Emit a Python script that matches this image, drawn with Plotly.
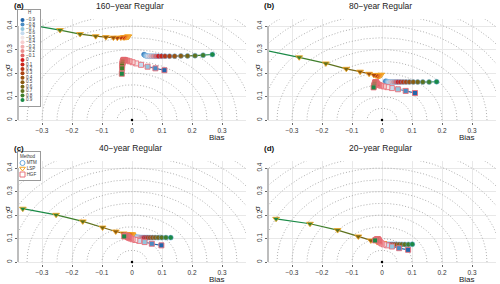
import numpy as np
import plotly.graph_objects as go

# ---------------- data ----------------
H = [-0.9, -0.8, -0.7, -0.6, -0.5, -0.4, -0.3, -0.2, -0.1, 0.0,
     0.1, 0.2, 0.3, 0.4, 0.5, 0.6, 0.7, 0.8, 0.9]
H_COLORS = ['#2166AC', '#4A8CC4', '#92C5DE', '#C6DBEF', '#F2E6E6', '#F7D0D0',
            '#F2AFAF', '#EB8C8C', '#E06666', '#D7191C', '#C9261A', '#BA3516',
            '#AA4413', '#9A5211', '#8A5C12', '#766616', '#5E721E', '#3F7F2C', '#1A8A46']
METHODS = ['MTM', 'LSP', 'HGF']
PANEL_TITLES = ['160\u2212year Regular', '80\u2212year Regular',
                '40\u2212year Regular', '20\u2212year Regular']
PANEL_LABELS = ['(a)', '(b)', '(c)', '(d)']
X_TICKS = [-0.3, -0.2, -0.1, 0.0, 0.1, 0.2, 0.3]
Y_TICKS = [0.0, 0.1, 0.2, 0.3, 0.4]

# panel (a) 160-year
mtm_bias_a = [0.040, 0.043, 0.046, 0.049, 0.053, 0.058, 0.064, 0.071, 0.079, 0.088,
              0.098, 0.110, 0.125, 0.142, 0.163, 0.185, 0.210, 0.237, 0.268]
mtm_sigma_a = [0.279, 0.276, 0.274, 0.273, 0.272, 0.272, 0.272, 0.272, 0.272, 0.272,
               0.272, 0.272, 0.272, 0.272, 0.273, 0.273, 0.274, 0.276, 0.279]
lsp_bias_a = [-0.012, -0.013, -0.014, -0.015, -0.016, -0.017, -0.018, -0.020, -0.022, -0.025,
              -0.029, -0.037, -0.049, -0.062, -0.087, -0.121, -0.173, -0.240, -0.340]
lsp_sigma_a = [0.356, 0.355, 0.354, 0.354, 0.354, 0.354, 0.353, 0.353, 0.353, 0.352,
               0.352, 0.351, 0.350, 0.351, 0.353, 0.357, 0.366, 0.383, 0.405]
hgf_bias_a = [0.108, 0.078, 0.052, 0.030, 0.014, 0.002, -0.008, -0.016, -0.022, -0.026,
              -0.028, -0.029, -0.030, -0.031, -0.031, -0.032, -0.033, -0.033, -0.034]
hgf_sigma_a = [0.212, 0.220, 0.227, 0.235, 0.241, 0.246, 0.250, 0.253, 0.255, 0.256,
               0.256, 0.254, 0.252, 0.249, 0.245, 0.240, 0.232, 0.220, 0.197]

# panel (b) 80-year
mtm_bias_b = [0.012, 0.015, 0.018, 0.021, 0.025, 0.029, 0.034, 0.040, 0.046, 0.053,
              0.061, 0.070, 0.080, 0.091, 0.104, 0.119, 0.136, 0.157, 0.182]
mtm_sigma_b = [0.165, 0.164, 0.163, 0.162, 0.162, 0.162, 0.162, 0.162, 0.162, 0.162,
               0.162, 0.162, 0.162, 0.162, 0.162, 0.162, 0.162, 0.162, 0.163]
lsp_bias_b = [-0.003, -0.004, -0.005, -0.006, -0.007, -0.008, -0.009, -0.010, -0.011, -0.013,
              -0.016, -0.020, -0.027, -0.043, -0.073, -0.119, -0.187, -0.276, -0.400]
lsp_sigma_b = [0.193, 0.192, 0.191, 0.191, 0.190, 0.190, 0.189, 0.189, 0.189, 0.189,
               0.189, 0.190, 0.192, 0.197, 0.206, 0.218, 0.241, 0.267, 0.300]
hgf_bias_b = [0.110, 0.079, 0.053, 0.033, 0.018, 0.006, -0.003, -0.009, -0.014, -0.017,
              -0.019, -0.020, -0.021, -0.022, -0.023, -0.024, -0.025, -0.026, -0.028]
hgf_sigma_b = [0.115, 0.124, 0.131, 0.136, 0.140, 0.143, 0.146, 0.149, 0.152, 0.156,
               0.159, 0.161, 0.162, 0.161, 0.159, 0.155, 0.151, 0.146, 0.139]

# panel (c) 40-year
mtm_bias_c = [0.003, 0.007, 0.011, 0.015, 0.019, 0.023, 0.027, 0.031, 0.036, 0.041,
              0.047, 0.053, 0.060, 0.068, 0.077, 0.087, 0.099, 0.113, 0.129]
mtm_sigma_c = [0.109, 0.108, 0.107, 0.106, 0.105, 0.105, 0.104, 0.104, 0.104, 0.104,
               0.104, 0.104, 0.104, 0.104, 0.104, 0.104, 0.104, 0.104, 0.104]
lsp_bias_c = [0.002, 0.001, 0.000, -0.001, -0.001, -0.002, -0.002, -0.003, -0.004, -0.005,
              -0.007, -0.010, -0.016, -0.028, -0.054, -0.098, -0.164, -0.253, -0.364]
lsp_sigma_c = [0.117, 0.117, 0.117, 0.116, 0.116, 0.116, 0.116, 0.116, 0.116, 0.116,
               0.116, 0.117, 0.119, 0.122, 0.130, 0.147, 0.173, 0.201, 0.227]
hgf_bias_c = [0.098, 0.066, 0.042, 0.024, 0.011, 0.002, -0.004, -0.008, -0.011, -0.013,
              -0.015, -0.016, -0.017, -0.018, -0.019, -0.020, -0.021, -0.023, -0.026]
hgf_sigma_c = [0.071, 0.078, 0.085, 0.090, 0.094, 0.097, 0.100, 0.102, 0.104, 0.106,
               0.108, 0.109, 0.110, 0.111, 0.112, 0.112, 0.112, 0.111, 0.109]

# panel (d) 20-year
mtm_bias_d = [0.002, 0.003, 0.005, 0.007, 0.009, 0.012, 0.015, 0.018, 0.022, 0.026,
              0.031, 0.036, 0.042, 0.049, 0.057, 0.066, 0.076, 0.088, 0.101]
mtm_sigma_d = [0.078, 0.077, 0.076, 0.076, 0.075, 0.075, 0.075, 0.075, 0.075, 0.075,
               0.075, 0.075, 0.075, 0.075, 0.075, 0.075, 0.075, 0.075, 0.076]
lsp_bias_d = [0.004, 0.003, 0.003, 0.002, 0.002, 0.001, 0.001, 0.001, 0.000, 0.000,
              -0.001, -0.003, -0.007, -0.016, -0.037, -0.079, -0.148, -0.240, -0.353]
lsp_sigma_d = [0.081, 0.081, 0.080, 0.080, 0.080, 0.080, 0.079, 0.079, 0.079, 0.079,
               0.079, 0.080, 0.082, 0.085, 0.092, 0.109, 0.136, 0.163, 0.184]
hgf_bias_d = [0.087, 0.057, 0.033, 0.017, 0.006, -0.001, -0.005, -0.008, -0.010, -0.011,
              -0.012, -0.013, -0.014, -0.015, -0.016, -0.017, -0.019, -0.021, -0.023]
hgf_sigma_d = [0.052, 0.059, 0.066, 0.071, 0.075, 0.079, 0.083, 0.087, 0.090, 0.093,
               0.095, 0.096, 0.097, 0.097, 0.097, 0.096, 0.095, 0.094, 0.092]

PANELS = [
    {'MTM': (mtm_bias_a, mtm_sigma_a), 'LSP': (lsp_bias_a, lsp_sigma_a), 'HGF': (hgf_bias_a, hgf_sigma_a)},
    {'MTM': (mtm_bias_b, mtm_sigma_b), 'LSP': (lsp_bias_b, lsp_sigma_b), 'HGF': (hgf_bias_b, hgf_sigma_b)},
    {'MTM': (mtm_bias_c, mtm_sigma_c), 'LSP': (lsp_bias_c, lsp_sigma_c), 'HGF': (hgf_bias_c, hgf_sigma_c)},
    {'MTM': (mtm_bias_d, mtm_sigma_d), 'LSP': (lsp_bias_d, lsp_sigma_d), 'HGF': (hgf_bias_d, hgf_sigma_d)},
]

# ---------------- style ----------------
W, HGT = 500, 284
FONT = 'Liberation Sans, Arial, sans-serif'
METHOD_EDGE = {'MTM': '#6AA8DA', 'LSP': '#F5A623', 'HGF': '#E8707A'}
METHOD_EDGE_W = {'MTM': 0.5, 'LSP': 0.8, 'HGF': 0.9}
METHOD_SYMBOL = {'MTM': 'circle', 'LSP': 'triangle-down', 'HGF': 'square'}
METHOD_SIZE = {'MTM': 5, 'LSP': 6, 'HGF': 5}
XR = [-0.38, 0.38]
YR = [-0.01, 0.43]

# panel pixel boxes: (left, right, top, bottom)
BOXES = [(18, 246, 19, 122.4), (268, 496, 19, 122.4),
         (18, 246, 161, 264.4), (268, 496, 161, 264.4)]


def px2x(p):
    return p / W


def px2y(p):
    return 1 - p / HGT


fig = go.Figure()
layout = dict(width=W, height=HGT, margin=dict(l=0, r=0, t=0, b=0),
              paper_bgcolor='white', plot_bgcolor='white', showlegend=False,
              font=dict(family=FONT, color='#222'))
annotations = []
shapes = []

theta = np.linspace(0, np.pi, 181)
radii = np.arange(0.05, 0.601, 0.05)

for k, (box, data) in enumerate(zip(BOXES, PANELS)):
    sfx = '' if k == 0 else str(k + 1)
    xa, ya = 'x' + sfx, 'y' + sfx
    l, r, t, b = box
    layout['xaxis' + sfx] = dict(domain=[px2x(l), px2x(r)], range=XR, anchor=ya,
                                 tickvals=X_TICKS, ticks='outside', ticklen=2, tickcolor='#666',
                                 tickfont=dict(size=6.5, color='#333'), showgrid=True,
                                 gridcolor='#E8E8E8', gridwidth=0.7, zeroline=False,
                                 showline=False, fixedrange=True)
    layout['yaxis' + sfx] = dict(domain=[px2y(b), px2y(t)], range=YR, anchor=xa,
                                 tickvals=Y_TICKS, ticks='outside', ticklen=2, tickcolor='#666',
                                 tickangle=-90, tickfont=dict(size=6.5, color='#333'),
                                 showgrid=True, gridcolor='#E8E8E8', gridwidth=0.7,
                                 zeroline=False, showline=False, fixedrange=True)
    # dotted arcs
    ax_, ay_ = [], []
    for rr in radii:
        ax_ += list(rr * np.cos(theta)) + [None]
        ay_ += list(rr * np.sin(theta)) + [None]
    fig.add_trace(go.Scatter(x=ax_, y=ay_, mode='lines', xaxis=xa, yaxis=ya,
                             line=dict(color='#9A9A9A', width=0.8, dash='1px,2px'),
                             hoverinfo='skip'))
    # connecting segments coloured by H
    for i in range(len(H) - 1):
        c = H_COLORS[i] if H[i] < 0 else H_COLORS[i + 1]
        sx, sy = [], []
        for m in METHODS:
            bx, sg = data[m]
            sx += [bx[i], bx[i + 1], None]
            sy += [sg[i], sg[i + 1], None]
        fig.add_trace(go.Scatter(x=sx, y=sy, mode='lines', xaxis=xa, yaxis=ya,
                                 line=dict(color=c, width=1.2), hoverinfo='skip'))
    # markers
    for m in METHODS:
        bx, sg = data[m]
        fig.add_trace(go.Scatter(x=bx, y=sg, mode='markers', xaxis=xa, yaxis=ya,
                                 marker=dict(symbol=METHOD_SYMBOL[m], size=METHOD_SIZE[m],
                                             color=H_COLORS,
                                             line=dict(color=METHOD_EDGE[m], width=METHOD_EDGE_W[m]))))
    # origin
    fig.add_trace(go.Scatter(x=[0], y=[0], mode='markers', xaxis=xa, yaxis=ya,
                             marker=dict(color='black', size=2.5)))
    # left gray axis line
    shapes.append(dict(type='line', xref='paper', yref=ya, x0=px2x(l), x1=px2x(l),
                       y0=0, y1=0.4, line=dict(color='#BDBDBD', width=2)))
    cx = (l + r) / 2 - 2
    annotations.append(dict(text=PANEL_TITLES[k], xref='paper', yref='paper',
                            x=px2x(cx), y=px2y(t - 13), showarrow=False,
                            font=dict(size=8.5, color='#222'), xanchor='center', yanchor='middle'))
    annotations.append(dict(text='<b>' + PANEL_LABELS[k] + '</b>', xref='paper', yref='paper',
                            x=px2x(l - 6), y=px2y(t - 13), showarrow=False,
                            font=dict(size=8, color='#111'), xanchor='left', yanchor='middle'))
    annotations.append(dict(text='Bias', xref='paper', yref='paper',
                            x=px2x(r - 29), y=px2y(b + 15), showarrow=False,
                            font=dict(size=8, color='#222'), xanchor='center', yanchor='middle'))
    annotations.append(dict(text='\u03c3', xref='paper', yref='paper',
                            x=px2x(l - 11), y=px2y(t + 48), showarrow=False, textangle=-90,
                            font=dict(size=8, color='#222'), xanchor='center', yanchor='middle'))

# H legend in panel (a) (own small axes)
H_LABELS = [('\u2212' if h < 0 else '') + ('%g' % abs(h)) for h in H]
layout['xaxis5'] = dict(domain=[px2x(18), px2x(40)], range=[0, 22], anchor='y5',
                        showgrid=False, zeroline=False, showticklabels=False, ticks='',
                        showline=True, mirror=True, linecolor='#9A9A9A', linewidth=0.8,
                        fixedrange=True)
layout['yaxis5'] = dict(domain=[px2y(106), px2y(10)], range=[1.035, -1.125], anchor='x5',
                        showgrid=False, zeroline=False, showticklabels=False, ticks='',
                        showline=True, mirror=True, linecolor='#9A9A9A', linewidth=0.8,
                        fixedrange=True)
fig.add_trace(go.Scatter(x=[4.5] * len(H), y=H, mode='markers+text', xaxis='x5', yaxis='y5',
                         marker=dict(symbol='circle', size=4, color=H_COLORS),
                         text=H_LABELS, textposition='middle right',
                         textfont=dict(size=4.5, color='#333')))
annotations.append(dict(text='H', xref='x5', yref='y5', x=11, y=-1.06, showarrow=False,
                        font=dict(size=4.5, color='#333'), xanchor='center', yanchor='middle'))

# Method legend in panel (c)
layout['xaxis6'] = dict(domain=[px2x(18), px2x(40)], range=[0, 22], anchor='y6',
                        showgrid=False, zeroline=False, showticklabels=False, ticks='',
                        showline=True, mirror=True, linecolor='#9A9A9A', linewidth=0.8,
                        fixedrange=True)
layout['yaxis6'] = dict(domain=[px2y(180), px2y(152)], range=[28, 0], anchor='x6',
                        showgrid=False, zeroline=False, showticklabels=False, ticks='',
                        showline=True, mirror=True, linecolor='#9A9A9A', linewidth=0.8,
                        fixedrange=True)
fig.add_trace(go.Scatter(x=[4.5, 4.5, 4.5], y=[11, 16.5, 22.5], mode='markers+text',
                         xaxis='x6', yaxis='y6',
                         marker=dict(symbol=[METHOD_SYMBOL[m] + '-open' for m in METHODS],
                                     size=5, color=[METHOD_EDGE[m] for m in METHODS],
                                     line=dict(width=1)),
                         text=METHODS, textposition='middle right',
                         textfont=dict(size=4.5, color='#333')))
annotations.append(dict(text='Method', xref='x6', yref='y6', x=10, y=4.2, showarrow=False,
                        font=dict(size=4.5, color='#333'), xanchor='center', yanchor='middle'))

layout['annotations'] = annotations
layout['shapes'] = shapes
fig.update_layout(**layout)
fig.write_html('out.html', include_plotlyjs=True, config={'displayModeBar': False},
               post_script="document.body.style.margin='0';document.body.style.padding='0';")
